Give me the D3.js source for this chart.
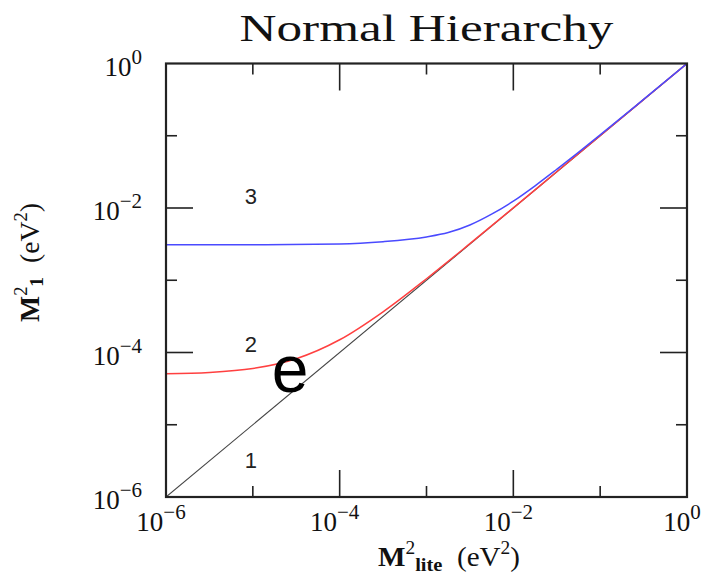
<!DOCTYPE html>
<html>
<head>
<meta charset="utf-8">
<script src="https://cdn.jsdelivr.net/npm/d3@7"></script>
<style>
  html, body { margin: 0; padding: 0; background: #fff; }
  svg { display: block; }
</style>
</head>
<body>
<svg id="chart" width="706" height="578"></svg>
<script>
// Lightest mass-squared M²_lite (eV²) on the x axis, M²_1 (eV²) on the y axis
const lightX = [1e-6, 1];
const lightY = [1e-6, 1];

const redX = [1e-6, 3.16e-6, 1e-5, 3.16e-5, 1e-4, 3.16e-4, 1e-3, 3.16e-3, 1e-2, 3.16e-2, 0.1, 0.316, 1];
const redY = [5.1e-5, 5.3e-5, 6.0e-5, 8.2e-5, 1.5e-4, 3.66e-4, 1.05e-3, 3.21e-3, 0.01005, 0.0317, 0.1, 0.316, 1];

const blueX = [1e-6, 1e-5, 1e-4, 3.16e-4, 1e-3, 1.78e-3, 3.16e-3, 5.62e-3, 1e-2, 1.78e-2, 3.16e-2, 5.62e-2, 0.1, 0.316, 1];
const blueY = [3.1e-3, 3.1e-3, 3.18e-3, 3.42e-3, 3.98e-3, 4.57e-3, 5.82e-3, 8.22e-3, 0.01245, 0.0203, 0.0343, 0.0589, 0.1026, 0.3184, 1];

const tickExps = [-6, -5, -4, -3, -2, -1, 0];
const labelExps = [-6, -4, -2, 0];
const curveLabels = [
  { text: "3", x: 1e-5, y: 1.13e-2 },
  { text: "2", x: 1e-5, y: 1.02e-4 },
  { text: "1", x: 1e-5, y: 2.5e-6 }
];

(function () {
  const svg = d3.select("#chart");
  const pL = 166, pR = 687, pT = 63.5, pB = 497;

  const x = d3.scaleLog().domain([1e-6, 1]).range([pL, pR]);
  const y = d3.scaleLog().domain([1e-6, 1]).range([pB, pT]);

  const serif = "'Liberation Serif', 'DejaVu Serif', serif";
  const sans = "'Liberation Sans', Arial, sans-serif";

  // Curves
  const line = d3.line().x(d => x(d[0])).y(d => y(d[1])).curve(d3.curveMonotoneX);
  const series = [
    { xs: lightX, ys: lightY, color: "#444", width: 1.1 },
    { xs: redX, ys: redY, color: "#ff4040", width: 1.5 },
    { xs: blueX, ys: blueY, color: "#4a4aff", width: 1.5 }
  ];
  svg.append("clipPath").attr("id", "plot-clip")
    .append("rect").attr("x", pL).attr("y", pT).attr("width", pR - pL).attr("height", pB - pT);
  series.forEach(s => {
    svg.append("path")
      .datum(d3.zip(s.xs, s.ys))
      .attr("d", line)
      .attr("fill", "none")
      .attr("stroke", s.color)
      .attr("stroke-width", s.width)
      .attr("clip-path", "url(#plot-clip)");
  });

  // Frame and ticks on all four sides
  const tickVals = tickExps.map(e => Math.pow(10, e));
  const major = v => Math.round(Math.log10(v)) % 2 === 0;
  const axisStroke = "#222";
  const ticks = svg.append("g").attr("stroke", axisStroke).attr("stroke-width", 1.6);
  tickVals.slice(1, -1).forEach(v => {
    const L = major(v) ? 27 : 11;
    const px = x(v), py = y(v);
    ticks.append("line").attr("x1", px).attr("x2", px).attr("y1", pB).attr("y2", pB - L);
    ticks.append("line").attr("x1", px).attr("x2", px).attr("y1", pT).attr("y2", pT + L);
    ticks.append("line").attr("y1", py).attr("y2", py).attr("x1", pL).attr("x2", pL + L);
    ticks.append("line").attr("y1", py).attr("y2", py).attr("x1", pR).attr("x2", pR - L);
  });
  svg.append("rect")
    .attr("x", pL).attr("y", pT).attr("width", pR - pL).attr("height", pB - pT)
    .attr("fill", "none").attr("stroke", axisStroke).attr("stroke-width", 2.2);

  // Power-of-ten tick labels
  function powerLabel(g, e) {
    g.append("tspan").text("10");
    g.append("tspan").attr("dy", -12).attr("font-size", 21).text(e < 0 ? "\u2212" + (-e) : String(e));
  }
  labelExps.forEach(e => {
    const v = Math.pow(10, e);
    const tx = svg.append("text")
      .attr("x", x(v) - 5).attr("y", pB + 34)
      .attr("text-anchor", "middle")
      .attr("font-family", serif).attr("font-size", 27).attr("fill", "#111");
    powerLabel(tx, e);
    const ty = svg.append("text")
      .attr("x", 142).attr("y", y(v) + 12)
      .attr("text-anchor", "end")
      .attr("font-family", serif).attr("font-size", 27).attr("fill", "#111");
    powerLabel(ty, e);
  });

  // Title
  svg.append("text")
    .attr("x", (pL + pR) / 2).attr("y", 41)
    .attr("text-anchor", "middle")
    .attr("font-family", serif).attr("font-size", 38).attr("fill", "#111")
    .attr("textLength", 374).attr("lengthAdjust", "spacingAndGlyphs")
    .text("Normal Hierarchy");

  // Axis titles
  const xt = svg.append("text")
    .attr("x", 378).attr("y", 566)
    .attr("font-family", serif).attr("font-size", 27).attr("fill", "#111")
    .attr("textLength", 142).attr("lengthAdjust", "spacingAndGlyphs");
  xt.append("tspan").attr("font-weight", "bold").text("M");
  xt.append("tspan").attr("dy", -12).attr("font-size", 18).text("2");
  xt.append("tspan").attr("dy", 17).attr("font-size", 19).attr("font-weight", "bold").text("lite");
  xt.append("tspan").attr("dy", -5).text("\u2002(eV");
  xt.append("tspan").attr("dy", -12).attr("font-size", 18).text("2");
  xt.append("tspan").attr("dy", 12).text(")");

  const yt = svg.append("text")
    .attr("transform", "translate(39,322) rotate(-90)")
    .attr("font-family", serif).attr("font-size", 27).attr("fill", "#111")
    .attr("textLength", 119).attr("lengthAdjust", "spacingAndGlyphs");
  yt.append("tspan").attr("font-weight", "bold").text("M");
  yt.append("tspan").attr("dy", -12).attr("font-size", 18).text("2");
  yt.append("tspan").attr("dy", 16).attr("font-size", 19).attr("font-weight", "bold").text("1");
  yt.append("tspan").attr("dy", -4).text("\u2002(eV");
  yt.append("tspan").attr("dy", -12).attr("font-size", 18).text("2");
  yt.append("tspan").attr("dy", 12).text(")");

  // Curve numbers
  svg.selectAll("text.curve-num")
    .data(curveLabels)
    .join("text")
    .attr("class", "curve-num")
    .attr("x", d => x(d.x) - 2)
    .attr("y", d => y(d.y))
    .attr("text-anchor", "middle")
    .attr("font-family", sans).attr("font-size", 22).attr("fill", "#222")
    .text(d => d.text);

  // Flavour marker
  svg.append("text")
    .attr("x", 290).attr("y", 392)
    .attr("text-anchor", "middle")
    .attr("font-family", sans).attr("font-size", 66).attr("fill", "#000")
    .text("e");
})();
</script>
</body>
</html>
